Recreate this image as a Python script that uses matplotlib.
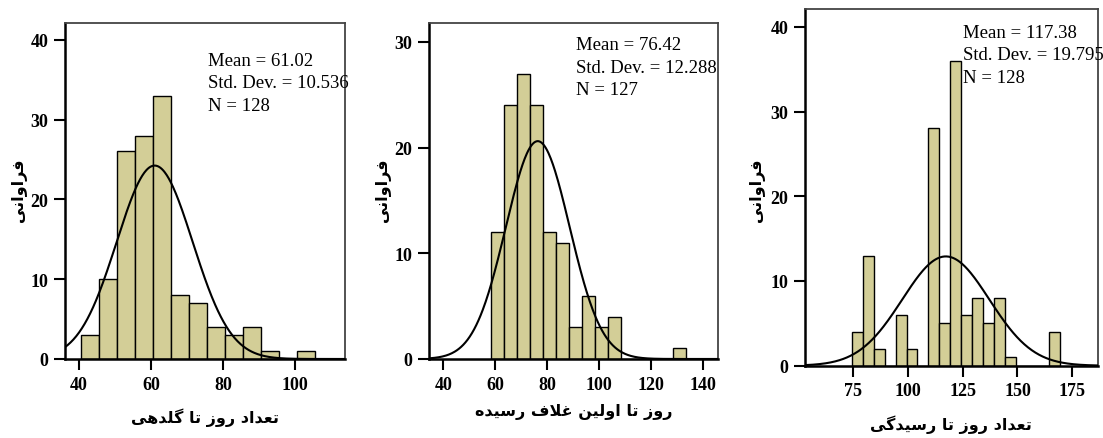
import numpy as np
import matplotlib
matplotlib.use('Agg')
import matplotlib.pyplot as plt

# data (bin width 5)
titles = ['تعداد روز تا گلدهی', 'روز تا اولین غلاف رسیده', 'تعداد روز تا رسیدگی']
ylabel = 'فراوانی'

bin_start = [40.5, 58.4, 74.5]
bin_width = 5
counts_flower = [3, 10, 26, 28, 33, 8, 7, 4, 3, 4, 1, 0, 1]
counts_pod = [12, 24, 27, 24, 12, 11, 3, 6, 3, 4, 0, 0, 0, 0, 1]
counts_mature = [4, 13, 2, 0, 6, 2, 0, 28, 5, 36, 6, 8, 5, 8, 1, 0, 0, 0, 4]
counts = [counts_flower, counts_pod, counts_mature]

means = [61.02, 76.42, 117.38]
sds = [10.536, 12.288, 19.795]
ns = [128, 127, 128]

xticks = [[40, 60, 80, 100], [40, 60, 80, 100, 120, 140], [75, 100, 125, 150, 175]]
yticks = [[0, 10, 20, 30, 40], [0, 10, 20, 30], [0, 10, 20, 30, 40]]
xlims = [(36.1, 113.9), (34.6, 145.8), (53.3, 186.5)]
ylims = [42.1, 31.8, 42.1]

# minimal Arabic/Persian shaping: matplotlib draws glyphs left to right unjoined
FORMS = {
    'ا': ('\uFE8D', '\uFE8E', None, None),
    'ت': ('\uFE95', '\uFE96', '\uFE97', '\uFE98'),
    'د': ('\uFEA9', '\uFEAA', None, None),
    'ر': ('\uFEAD', '\uFEAE', None, None),
    'ز': ('\uFEAF', '\uFEB0', None, None),
    'س': ('\uFEB1', '\uFEB2', '\uFEB3', '\uFEB4'),
    'ع': ('\uFEC9', '\uFECA', '\uFECB', '\uFECC'),
    'غ': ('\uFECD', '\uFECE', '\uFECF', '\uFED0'),
    'ف': ('\uFED1', '\uFED2', '\uFED3', '\uFED4'),
    'ل': ('\uFEDD', '\uFEDE', '\uFEDF', '\uFEE0'),
    'ن': ('\uFEE5', '\uFEE6', '\uFEE7', '\uFEE8'),
    'ه': ('\uFEE9', '\uFEEA', '\uFEEB', '\uFEEC'),
    'و': ('\uFEED', '\uFEEE', None, None),
    'ی': ('\uFBFC', '\uFBFD', '\uFBFE', '\uFBFF'),
    'گ': ('\uFB92', '\uFB93', '\uFB94', '\uFB95'),
}


def dual(c):
    return c in FORMS and FORMS[c][2] is not None


def shape(text):
    out = []
    i = 0
    n = len(text)
    while i < n:
        c = text[i]
        if c not in FORMS:
            out.append(c)
            i += 1
            continue
        prev_join = i > 0 and dual(text[i - 1])
        if c == 'ل' and i + 1 < n and text[i + 1] == 'ا':
            out.append('\uFEFC' if prev_join else '\uFEFB')
            i += 2
            continue
        next_join = dual(c) and i + 1 < n and text[i + 1] in FORMS
        if prev_join and next_join:
            k = 3
        elif prev_join:
            k = 1
        elif next_join:
            k = 2
        else:
            k = 0
        out.append(FORMS[c][k])
        i += 1
    return ''.join(reversed(out))


bar_color = '#D3CE97'
serif = 'Liberation Serif'

fig = plt.figure(figsize=(11.03, 4.39), dpi=100)
boxes = [
    [0.0589, 0.18, 0.2539, 0.7654],
    [0.3892, 0.18, 0.2615, 0.7654],
    [0.7298, 0.1647, 0.2654, 0.8125],
]
text_pos = [(0.511, 0.914), (0.509, 0.961), (0.541, 0.958)]
xlabel_y = [418, 412, 425]
ylabel_x = [19, 383, 757]

for i in range(3):
    ax = fig.add_axes(boxes[i])
    c = np.array(counts[i])
    edges = bin_start[i] + bin_width * np.arange(len(c))
    ax.bar(edges, c, width=bin_width, align='edge', color=bar_color,
           edgecolor='black', linewidth=1.0, zorder=2)

    x = np.linspace(xlims[i][0], xlims[i][1], 400)
    pdf = np.exp(-0.5 * ((x - means[i]) / sds[i]) ** 2) / (sds[i] * np.sqrt(2 * np.pi))
    ax.plot(x, ns[i] * bin_width * pdf, color='black', linewidth=1.5, zorder=3)

    ax.set_xlim(*xlims[i])
    ax.set_ylim(0, ylims[i])
    ax.set_xticks(xticks[i])
    ax.set_yticks(yticks[i])
    for lab in ax.get_xticklabels() + ax.get_yticklabels():
        lab.set_fontfamily(serif)
        lab.set_fontweight('bold')
        lab.set_fontsize(13)
    ax.tick_params(direction='out', length=8, width=1.5, color='black', pad=4)

    for s in ['top', 'right']:
        ax.spines[s].set_color('#444444')
        ax.spines[s].set_linewidth(1.3)
    for s in ['left', 'bottom']:
        ax.spines[s].set_color('black')
        ax.spines[s].set_linewidth(1.8)

    ax.text(text_pos[i][0], text_pos[i][1],
            'Mean = %.2f\nStd. Dev. = %.3f\nN = %d' % (means[i], sds[i], ns[i]),
            transform=ax.transAxes, ha='left', va='top', fontsize=13.5,
            family=serif, linespacing=1.42, clip_on=False)

    cx = (boxes[i][0] + boxes[i][2] / 2)
    fig.text(cx, 1 - xlabel_y[i] / 439, shape(titles[i]), ha='center', va='center',
             fontsize=11.5, fontweight='bold', family='DejaVu Sans')
    fig.text(ylabel_x[i] / 1103, 1 - 190 / 439, shape(ylabel), ha='center', va='center',
             rotation=90, fontsize=11.5, fontweight='bold', family='DejaVu Sans')

fig.savefig('out.png', dpi=100)
